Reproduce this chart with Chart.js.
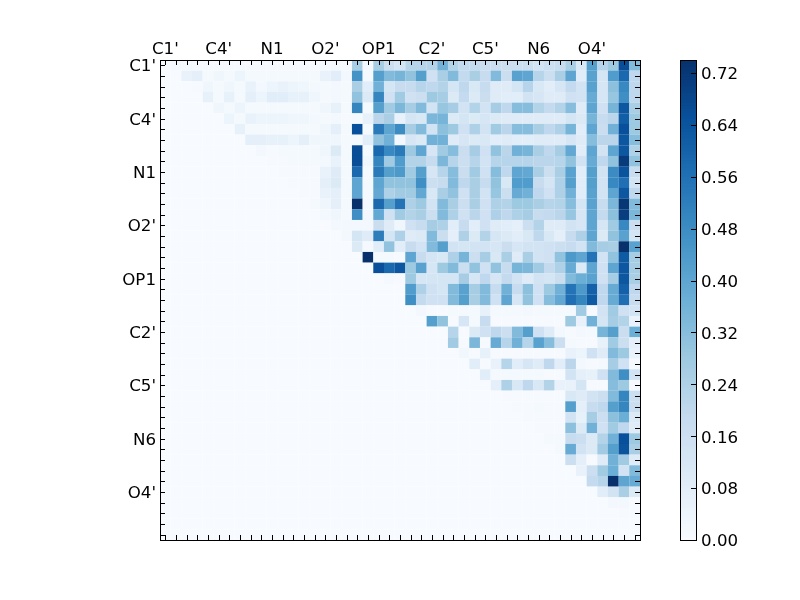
<!DOCTYPE html>
<html>
<head>
<meta charset="utf-8">
<style>
html,body{margin:0;padding:0;background:#fff;width:800px;height:600px;overflow:hidden}
canvas{position:absolute;top:0}
#heat{left:0}
#bar{left:650px}
</style>
<script src="https://cdn.jsdelivr.net/npm/chart.js@4/dist/chart.umd.js"></script>
</head>
<body>
<canvas id="heat" width="800" height="600"></canvas>
<canvas id="bar" width="150" height="600"></canvas>
<script>
const atomLabels = ["C1'","C4'","N1","O2'","OP1","C2'","C5'","N6","O4'"];
const colorbarTicks = [0,0.08,0.16,0.24,0.32,0.40,0.48,0.56,0.64,0.72];
const valueMax = 0.74;
const gridSize = 45;
const bluesStops = ['#f7fbff','#deebf7','#c6dbef','#9ecae1','#6baed6','#4292c6','#2171b5','#08519c','#08306b'];
// upper-triangle rows; each list is right-aligned so that its last value is the last column
const cellRows = [
[.015,.01,.005,.005,.005,.005,.005,.005,.005,.005,.005,.005,.005,.005,.01,.01,.005,.26,.02,.26,.16,.13,.22,.22,.23,.36,.23,.19,.19,.17,.17,.16,.16,.17,.14,.16,.18,.25,.11,.42,.22,.28,.66,.33],
[.05,.07,.01,.03,.01,.04,.01,.01,.01,.01,.01,.01,.01,.05,.08,.02,.46,.01,.42,.33,.35,.30,.42,.15,.25,.33,.19,.25,.18,.33,.17,.41,.40,.22,.16,.25,.40,.08,.41,.13,.43,.58,.20],
[.005,.03,.01,.03,.01,.05,.02,.04,.05,.04,.03,.02,.01,.02,.01,.25,.08,.36,.13,.18,.18,.22,.20,.23,.13,.20,.11,.18,.09,.09,.13,.22,.11,.08,.12,.19,.14,.41,.12,.31,.49,.20],
[.06,.01,.06,.01,.07,.04,.08,.08,.06,.06,.03,.01,.015,.01,.30,.10,.50,.15,.27,.15,.16,.28,.26,.10,.19,.10,.17,.09,.08,.08,.14,.12,.09,.09,.15,.14,.38,.12,.29,.47,.20],
[.03,.01,.04,.01,.01,.01,.01,.01,.01,.01,.03,.06,.01,.50,.01,.42,.27,.34,.26,.33,.14,.29,.26,.14,.23,.14,.26,.20,.32,.32,.23,.19,.23,.32,.09,.40,.15,.35,.63,.25],
[.04,.01,.05,.04,.04,.04,.03,.03,.02,.01,.015,.005,.01,.06,.21,.25,.05,.13,.11,.34,.35,.10,.13,.10,.12,.10,.09,.09,.09,.09,.09,.09,.13,.10,.35,.18,.21,.61,.28],
[.06,.01,.01,.01,.01,.01,.01,.01,.03,.07,.01,.65,.01,.53,.40,.48,.26,.33,.14,.31,.28,.15,.24,.14,.27,.21,.32,.32,.25,.20,.24,.35,.08,.40,.17,.36,.65,.28],
[.07,.07,.06,.06,.04,.07,.03,.03,.03,.01,.01,.08,.30,.36,.02,.12,.10,.36,.36,.09,.12,.10,.11,.08,.09,.08,.08,.09,.09,.09,.12,.09,.32,.21,.21,.63,.32],
[.02,.005,.01,.01,.01,.01,.03,.10,.01,.66,.01,.58,.49,.53,.28,.40,.12,.27,.32,.17,.26,.15,.30,.21,.36,.35,.25,.20,.26,.39,.08,.40,.14,.40,.63,.24],
[.005,.005,.01,.01,.01,.02,.05,.01,.66,.03,.50,.27,.43,.23,.23,.18,.34,.22,.16,.22,.14,.22,.22,.22,.22,.21,.21,.22,.30,.14,.38,.20,.30,.71,.30],
[.005,.005,.005,.005,.05,.09,.01,.58,.01,.53,.42,.44,.27,.42,.12,.22,.32,.17,.27,.15,.32,.20,.40,.39,.25,.16,.25,.41,.08,.42,.14,.48,.64,.18],
[.003,.005,.005,.07,.10,.01,.40,.01,.40,.30,.30,.30,.47,.16,.18,.33,.20,.25,.18,.30,.11,.43,.43,.18,.13,.24,.42,.08,.42,.14,.49,.56,.14],
[.003,.005,.05,.07,.01,.40,.01,.39,.24,.27,.27,.39,.11,.25,.30,.15,.25,.14,.29,.16,.38,.36,.20,.15,.24,.36,.08,.41,.14,.40,.63,.20],
[.01,.03,.07,.01,.74,.02,.58,.42,.55,.24,.28,.14,.33,.25,.16,.25,.15,.24,.23,.28,.28,.25,.22,.23,.32,.13,.41,.18,.34,.72,.33],
[.02,.03,.01,.47,.02,.39,.15,.27,.23,.25,.16,.33,.24,.15,.21,.15,.24,.20,.24,.26,.18,.19,.21,.29,.12,.40,.19,.31,.70,.34],
[.02,.02,.02,.02,.17,.09,.03,.15,.18,.26,.24,.08,.18,.08,.15,.09,.08,.07,.16,.23,.09,.09,.14,.12,.40,.12,.27,.49,.17],
[.02,.13,.09,.52,.13,.24,.09,.10,.33,.17,.07,.24,.10,.23,.12,.10,.08,.11,.20,.11,.07,.18,.24,.40,.10,.30,.41,.13],
[.10,.01,.08,.30,.08,.18,.14,.33,.42,.14,.13,.14,.14,.12,.17,.12,.14,.14,.15,.16,.18,.14,.33,.26,.25,.74,.41],
[.74,.01,.01,.005,.40,.18,.13,.11,.24,.35,.16,.26,.11,.25,.09,.25,.14,.15,.30,.44,.40,.55,.14,.30,.62,.26],
[.65,.58,.63,.28,.41,.12,.28,.33,.16,.30,.15,.30,.18,.35,.34,.27,.19,.24,.38,.10,.40,.15,.40,.63,.26],
[.01,.005,.28,.12,.13,.13,.13,.26,.12,.20,.12,.19,.14,.09,.14,.13,.17,.33,.37,.41,.15,.26,.63,.25],
[0,.43,.24,.15,.13,.33,.41,.26,.33,.18,.36,.18,.31,.15,.28,.36,.55,.44,.60,.20,.38,.60,.20],
[.47,.19,.15,.15,.33,.42,.25,.33,.15,.40,.12,.30,.15,.32,.39,.56,.50,.62,.20,.38,.56,.18],
[.02,.005,.005,.01,.01,.01,.06,.01,.01,.01,.015,.01,.01,.01,.01,.27,.005,.14,.27,.15,.14],
[.42,.30,.005,.12,.01,.18,.005,.005,.005,.005,.005,.005,.005,.28,.05,.36,.13,.26,.23,.05],
[0,.22,.005,.10,.15,.20,.16,.33,.42,.15,.09,.02,.005,.02,.01,.35,.42,.17,.37],
[.27,.005,.34,.005,.38,.22,.36,.22,.41,.32,.16,.01,.005,.005,.06,.27,.16,.07],
[.025,.005,.06,.005,.005,.005,.005,.005,.005,.005,.05,.04,.15,.09,.33,.28,.05],
[.08,.005,.05,.22,.08,.12,.09,.20,.08,.21,.02,.005,.01,.26,.15,.01],
[.08,.01,.01,.01,.01,.01,.005,.005,.14,.07,.06,.15,.33,.47,.14],
[.07,.24,.11,.20,.11,.23,.05,.05,.13,.005,.005,.32,.28,.005],
[.005,.005,.005,.005,.005,.005,.11,.09,.14,.16,.33,.50,.16],
[.005,.005,.01,.005,.005,.42,.07,.18,.20,.42,.50,.17],
[.003,.003,.005,.005,.14,.06,.26,.16,.31,.37,.10],
[.003,.005,.005,.31,.10,.36,.15,.27,.20,.09],
[.01,.01,.18,.16,.10,.23,.36,.65,.28],
[.01,.38,.14,.10,.27,.42,.64,.25],
[.16,.07,.005,.09,.36,.27,.09],
[.05,.16,.27,.37,.14,.33],
[.19,.22,.74,.40,.38],
[.08,.14,.25,.10],
[.015,.015,.005],
[.005,.005],
[0],
[]
];

const FONT = {family:"'DejaVu Sans'", size:16.67};
function hexRgb(h){return [1,3,5].map(i=>parseInt(h.substr(i,2),16));}
function blues(v){
  const f=Math.max(0,Math.min(1,v/valueMax))*(bluesStops.length-1);
  const i=Math.min(bluesStops.length-2,Math.floor(f)), t=f-i;
  const a=hexRgb(bluesStops[i]), b=hexRgb(bluesStops[i+1]);
  return 'rgb('+a.map((x,k)=>Math.round(x+(b[k]-x)*t)).join(',')+')';
}
const points=[];
cellRows.forEach((row,r)=>{
  const pad=gridSize-row.length;
  for(let c=0;c<gridSize;c++){
    points.push({x:c,y:r,v:c<pad?0:row[c-pad]});
  }
});
const gridTicks=Array.from({length:gridSize},(_,i)=>i);
function setTicks(scale){scale.ticks=gridTicks.map(v=>({value:v}));}
function gridLabel(v){return v%5===0?atomLabels[v/5]:'';}

const frameTicks={id:'frameTicks',afterDraw(chart){
  const {ctx,chartArea:a,scales:{x,y}}=chart;
  const L=5;
  ctx.save();
  ctx.strokeStyle='#000';ctx.lineWidth=1;
  ctx.beginPath();
  gridTicks.forEach(v=>{
    const px=Math.round(x.getPixelForValue(v))+0.5;
    const py=Math.round(y.getPixelForValue(v))+0.5;
    ctx.moveTo(px,a.top);ctx.lineTo(px,a.top+L);
    ctx.moveTo(px,a.bottom);ctx.lineTo(px,a.bottom-L);
    ctx.moveTo(a.left,py);ctx.lineTo(a.left+L,py);
    ctx.moveTo(a.right,py);ctx.lineTo(a.right-L,py);
  });
  ctx.stroke();
  ctx.strokeRect(a.left+0.5,a.top+0.5,a.right-a.left,a.bottom-a.top);
  ctx.restore();
}};

new Chart(document.getElementById('heat'),{
  type:'scatter',
  data:{datasets:[{
    label:'cells',
    data:points,
    pointStyle:'rect',
    pointRadius:7.62,
    pointHoverRadius:7.62,
    borderWidth:0,
    pointBorderWidth:0,
    backgroundColor:c=>c.raw?blues(c.raw.v):'#f7fbff'
  }]},
  options:{
    responsive:false,animation:false,
    layout:{padding:{left:0,top:0,right:160,bottom:60}},
    plugins:{legend:{display:false},tooltip:{enabled:false}},
    scales:{
      x:{type:'linear',position:'top',min:-0.5,max:44.5,
        afterBuildTicks:setTicks,
        afterFit(s){s.height=60;},
        grid:{display:false},border:{display:false},
        ticks:{autoSkip:false,maxRotation:0,minRotation:0,padding:-8,color:'#000',font:FONT,callback:gridLabel}},
      y:{type:'linear',position:'left',reverse:true,min:-0.5,max:44.5,
        afterBuildTicks:setTicks,
        afterFit(s){s.width=160;},
        grid:{display:false},border:{display:false},
        ticks:{autoSkip:false,padding:-4,labelOffset:1.5,color:'#000',font:FONT,callback:gridLabel}}
    }
  },
  plugins:[frameTicks]
});

// colour bar: nested floating bars, each running from its level up to the top of the scale
const barLevels=Array.from({length:148},(_,i)=>i*0.005);
const barFrame={id:'barFrame',afterDraw(chart){
  const {ctx,chartArea:a,scales:{y}}=chart;
  ctx.save();ctx.strokeStyle='#000';ctx.lineWidth=1;
  ctx.beginPath();
  colorbarTicks.forEach(v=>{
    const py=Math.round(y.getPixelForValue(v))+0.5;
    ctx.moveTo(a.right,py);ctx.lineTo(a.right-5,py);
  });
  ctx.stroke();
  ctx.strokeRect(a.left+0.5,a.top+0.5,a.right-a.left,a.bottom-a.top);
  ctx.restore();
}};
new Chart(document.getElementById('bar'),{
  type:'bar',
  data:{labels:['scale'],datasets:barLevels.map(l=>({
    data:[[l,valueMax]],backgroundColor:blues(l),borderWidth:0,
    barPercentage:1,categoryPercentage:1,grouped:false,
    order:-l
  }))},
  options:{
    responsive:false,animation:false,
    layout:{padding:{left:30,top:60,right:0,bottom:60}},
    plugins:{legend:{display:false},tooltip:{enabled:false}},
    scales:{
      x:{display:false},
      y:{position:'right',min:0,max:valueMax,
        afterBuildTicks(s){s.ticks=colorbarTicks.map(v=>({value:v}));},
        afterFit(s){s.width=104;},
        grid:{display:false},border:{display:false},
        ticks:{autoSkip:false,padding:-3,labelOffset:2,color:'#000',font:FONT,callback:v=>v.toFixed(2)}}
    }
  },
  plugins:[barFrame]
});
</script>
</body>
</html>
